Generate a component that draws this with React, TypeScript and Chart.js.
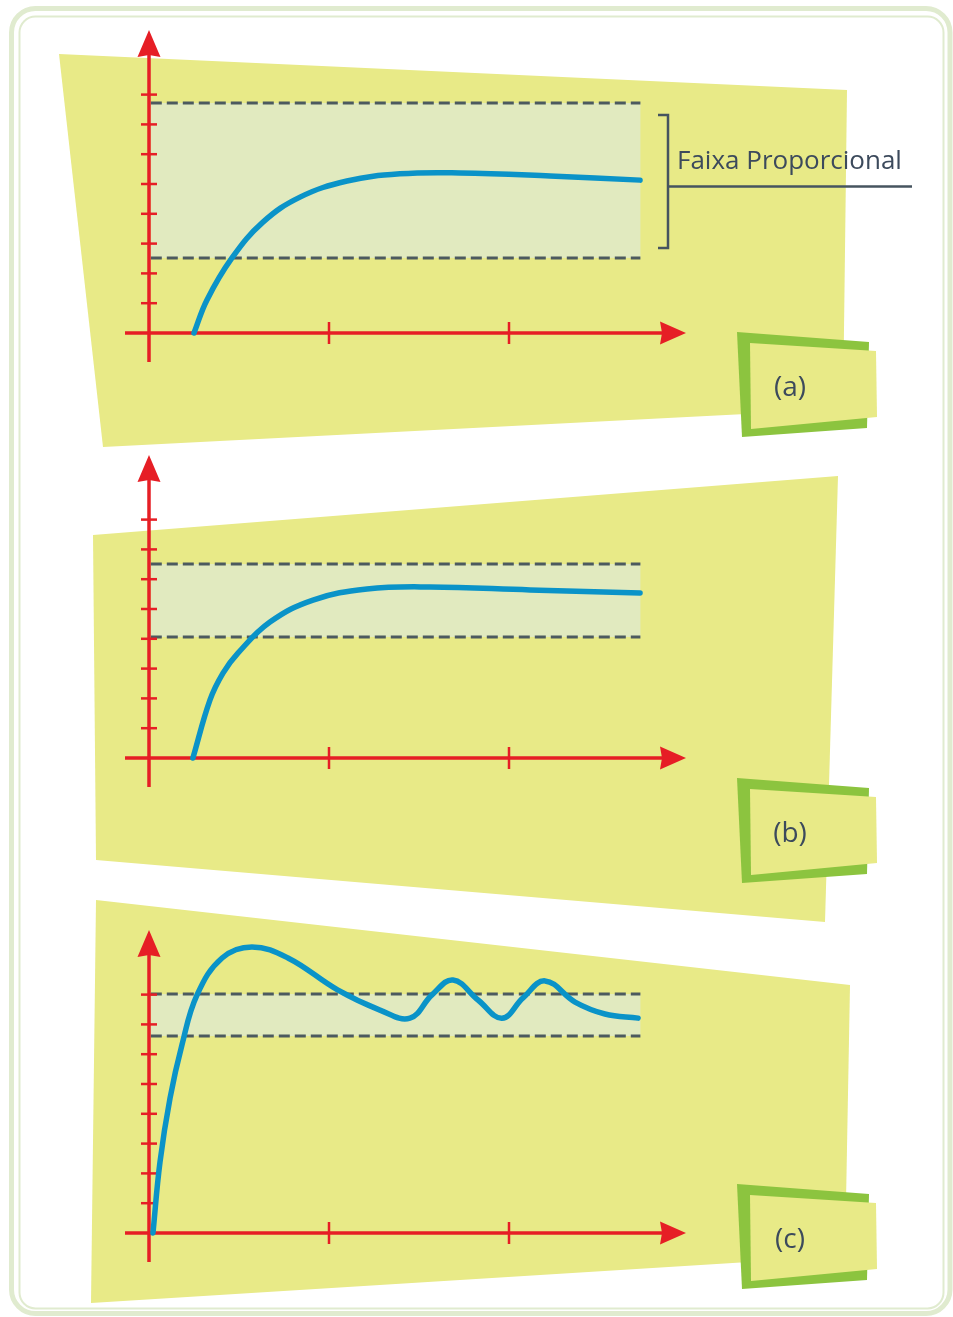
import React, { useEffect, useRef } from "react";
import { Chart, registerables } from "chart.js";

Chart.register(...registerables);

// ---------- data ----------
const X_TICKS = [1, 2];
const Y_TICKS = [1, 2, 3, 4, 5, 6, 7, 8];
const BAND_X = [0.01, 2.73];

const CURVE_A_X = [0.25, 0.322, 0.461, 0.633, 0.839, 1.1, 1.394, 1.728, 2.228, 2.728];
const CURVE_A_Y = [0, 1.11, 2.52, 3.72, 4.56, 5.1, 5.34, 5.37, 5.27, 5.13];
const BAND_A = [2.52, 7.72];

const CURVE_B_X = [0.244, 0.339, 0.411, 0.494, 0.672, 0.911, 1.211, 1.561, 2.117, 2.728];
const CURVE_B_Y = [0, 1.95, 2.85, 3.52, 4.56, 5.3, 5.67, 5.74, 5.64, 5.54];
const BAND_B = [4.06, 6.51];

const CURVE_C_X = [0.022, 0.061, 0.117, 0.183, 0.267, 0.406, 0.572, 0.772, 1.05, 1.283, 1.45, 1.572, 1.689, 1.828, 1.961, 2.078, 2.2, 2.367, 2.533, 2.717];
const CURVE_C_Y = [0, 2.38, 4.53, 6.31, 7.99, 9.23, 9.6, 9.23, 8.15, 7.48, 7.21, 7.99, 8.49, 7.82, 7.21, 7.89, 8.46, 7.75, 7.35, 7.21];
const BAND_C = [6.61, 8.02];

const LABELS = ["(a)", "(b)", "(c)"];
const ANNOTATION = "Faixa Proporcional";

// ---------- layout / style ----------
const W = 953;
const H = 1317;
const X_MAX = 3;
const Y_MAX = 10;
const PX_PER_X = 180;
const PX_PER_Y = 29.8;
const AXIS_LEFT = 149;

const RED = "#e61e25";
const BLUE = "#0a93c8";
const DASH = "#4c5a5f";
const PANEL = "#e8ea87";
const BAND = "#e1eabf";
const BOX_GREEN = "#8cc43f";
const TEXT = "#3c4a5c";
const FRAME = "#e0ebcf";

type Pt = [number, number];

const PANELS = [
  {
    axisY: 333,
    quad: [[59, 54], [847, 90], [843, 409], [103, 447]] as Pt[],
    boxDy: 0,
    label: LABELS[0],
    xs: CURVE_A_X,
    ys: CURVE_A_Y,
    band: BAND_A,
    frame: true,
    note: true,
  },
  {
    axisY: 758,
    quad: [[93, 535], [838, 476], [825, 922], [96, 860]] as Pt[],
    boxDy: 446,
    label: LABELS[1],
    xs: CURVE_B_X,
    ys: CURVE_B_Y,
    band: BAND_B,
    frame: false,
    note: false,
  },
  {
    axisY: 1233,
    quad: [[96, 900], [850, 985], [845, 1256], [91, 1303]] as Pt[],
    boxDy: 852,
    label: LABELS[2],
    xs: CURVE_C_X,
    ys: CURVE_C_Y,
    band: BAND_C,
    frame: false,
    note: false,
  },
];

function poly(ctx: CanvasRenderingContext2D, pts: Pt[], color: string) {
  ctx.beginPath();
  ctx.moveTo(pts[0][0], pts[0][1]);
  for (let i = 1; i < pts.length; i++) ctx.lineTo(pts[i][0], pts[i][1]);
  ctx.closePath();
  ctx.fillStyle = color;
  ctx.fill();
}

function roundRect(ctx: CanvasRenderingContext2D, x: number, y: number, w: number, h: number, r: number) {
  ctx.beginPath();
  ctx.moveTo(x + r, y);
  ctx.arcTo(x + w, y, x + w, y + h, r);
  ctx.arcTo(x + w, y + h, x, y + h, r);
  ctx.arcTo(x, y + h, x, y, r);
  ctx.arcTo(x, y, x + w, y, r);
  ctx.closePath();
}

function line(ctx: CanvasRenderingContext2D, x1: number, y1: number, x2: number, y2: number) {
  ctx.beginPath();
  ctx.moveTo(x1, y1);
  ctx.lineTo(x2, y2);
  ctx.stroke();
}

function makePlugin(p: (typeof PANELS)[number]) {
  return {
    id: "panelDeco",
    beforeDatasetsDraw(chart: any) {
      const ctx: CanvasRenderingContext2D = chart.ctx;
      const sx = chart.scales.x;
      const sy = chart.scales.y;
      ctx.save();
      if (p.frame) {
        ctx.strokeStyle = FRAME;
        ctx.lineWidth = 5;
        roundRect(ctx, 11.5, 8.5, 938.5, 1305, 24);
        ctx.stroke();
        ctx.lineWidth = 2;
        roundRect(ctx, 19.5, 16.5, 924, 1292, 16);
        ctx.stroke();
      }
      poly(ctx, p.quad, PANEL);

      // band
      const bx0 = sx.getPixelForValue(BAND_X[0]);
      const bx1 = sx.getPixelForValue(BAND_X[1]);
      const by0 = sy.getPixelForValue(p.band[0]);
      const by1 = sy.getPixelForValue(p.band[1]);
      ctx.fillStyle = BAND;
      ctx.fillRect(bx0, by1, bx1 - bx0, by0 - by1);
      ctx.strokeStyle = DASH;
      ctx.lineWidth = 3;
      ctx.setLineDash([11, 5]);
      line(ctx, bx0, by0, bx1, by0);
      line(ctx, bx0, by1, bx1, by1);
      ctx.setLineDash([]);

      // axes
      const x0 = sx.getPixelForValue(0);
      const y0 = sy.getPixelForValue(0);
      const xTip = sx.getPixelForValue(X_MAX) - 3;
      const yTip = sy.getPixelForValue(Y_MAX) - 5;
      ctx.strokeStyle = RED;
      ctx.fillStyle = RED;
      ctx.lineWidth = 3.5;
      line(ctx, x0, y0 + 29, x0, yTip + 20);
      line(ctx, x0 - 24, y0, xTip - 20, y0);
      ctx.beginPath();
      ctx.moveTo(x0, yTip);
      ctx.lineTo(x0 + 11.5, yTip + 27);
      ctx.lineTo(x0, yTip + 25);
      ctx.lineTo(x0 - 11.5, yTip + 27);
      ctx.closePath();
      ctx.fill();
      ctx.beginPath();
      ctx.moveTo(xTip, y0);
      ctx.lineTo(xTip - 26, y0 - 11.5);
      ctx.lineTo(xTip - 24, y0);
      ctx.lineTo(xTip - 26, y0 + 11.5);
      ctx.closePath();
      ctx.fill();
      ctx.lineWidth = 2.5;
      Y_TICKS.forEach((t) => {
        const py = sy.getPixelForValue(t);
        line(ctx, x0 - 8, py, x0 + 8, py);
      });
      X_TICKS.forEach((t) => {
        const px = sx.getPixelForValue(t);
        line(ctx, px, y0 - 11, px, y0 + 11);
      });
      ctx.restore();
    },
    afterDraw(chart: any) {
      const ctx: CanvasRenderingContext2D = chart.ctx;
      const sy = chart.scales.y;
      const d = p.boxDy;
      ctx.save();
      poly(ctx, [[737, 332 + d], [869, 342 + d], [867, 428 + d], [742, 437 + d]], BOX_GREEN);
      poly(ctx, [[750, 343 + d], [876, 351 + d], [877, 417 + d], [751, 429 + d]], PANEL);
      ctx.fillStyle = TEXT;
      ctx.font = '28px "Open Sans"';
      ctx.textAlign = "center";
      ctx.textBaseline = "middle";
      ctx.fillText(p.label, 790, 388 + d);

      if (p.note) {
        const top = sy.getPixelForValue(p.band[1]) + 12;
        const bot = sy.getPixelForValue(p.band[0]) - 10;
        ctx.strokeStyle = "#46545f";
        ctx.lineWidth = 2.5;
        ctx.beginPath();
        ctx.moveTo(658, top);
        ctx.lineTo(668, top);
        ctx.lineTo(668, bot);
        ctx.lineTo(658, bot);
        ctx.stroke();
        line(ctx, 668, 186.5, 912, 186.5);
        ctx.fillStyle = TEXT;
        ctx.font = '26px "Open Sans"';
        ctx.textAlign = "left";
        ctx.textBaseline = "alphabetic";
        ctx.fillText(ANNOTATION, 677, 169);
      }
      ctx.restore();
    },
  };
}

function Panel({ p }: { p: (typeof PANELS)[number] }) {
  const ref = useRef<HTMLCanvasElement | null>(null);
  useEffect(() => {
    if (!ref.current) return;
    const chart = new Chart(ref.current, {
      type: "line",
      data: {
        datasets: [
          {
            data: p.xs.map((x, i) => ({ x, y: p.ys[i] })),
            borderColor: BLUE,
            borderWidth: 5.5,
            pointRadius: 0,
            tension: 0.4,
            fill: false,
            clip: false,
            borderCapStyle: "round",
            borderJoinStyle: "round",
          } as any,
        ],
      },
      options: {
        responsive: false,
        animation: false,
        devicePixelRatio: 1,
        events: [],
        layout: {
          padding: {
            left: AXIS_LEFT,
            right: W - AXIS_LEFT - X_MAX * PX_PER_X,
            top: p.axisY - Y_MAX * PX_PER_Y,
            bottom: H - p.axisY,
          },
        },
        elements: { line: { capBezierPoints: false } },
        scales: {
          x: { type: "linear", min: 0, max: X_MAX, display: false },
          y: { type: "linear", min: 0, max: Y_MAX, display: false },
        },
        plugins: { legend: { display: false }, tooltip: { enabled: false } },
      },
      plugins: [makePlugin(p)],
    });
    return () => chart.destroy();
  }, []);
  return (
    <canvas
      ref={ref}
      width={W}
      height={H}
      style={{ position: "absolute", left: 0, top: 0, width: W, height: H }}
    />
  );
}

export default function App() {
  return (
    <div style={{ position: "absolute", left: 0, top: 0, width: W, height: H, background: "#ffffff" }}>
      {PANELS.map((p, i) => (
        <Panel key={i} p={p} />
      ))}
    </div>
  );
}
